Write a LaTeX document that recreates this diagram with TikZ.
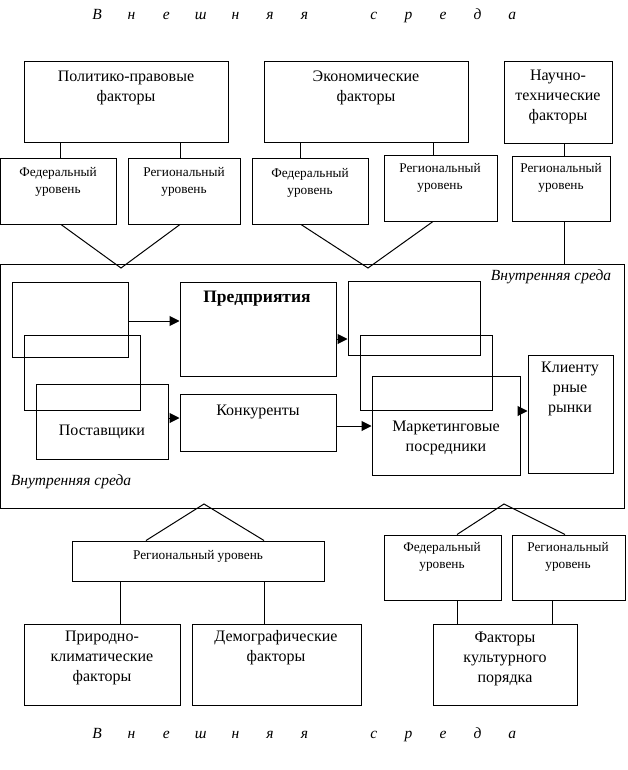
\documentclass[tikz,border=0pt]{standalone}
\usepackage{fontspec}
\setmainfont{Liberation Serif}
\usetikzlibrary{arrows.meta}
\tikzset{
  box/.style={draw, line width=1pt, rectangle, inner sep=0pt},
  big/.style={align=center, inner sep=0pt, font=\fontsize{16}{20}\selectfont},
  small/.style={align=center, inner sep=0pt, font=\fontsize{13.3}{17}\selectfont},
  itl/.style={inner sep=0pt, font=\fontsize{15.5}{17}\selectfont\itshape},
  ln/.style={line width=1pt},
  arr/.style={line width=1pt, -{Triangle[length=10pt,width=10pt]}}
}
\newcommand{\slot}[1]{\makebox[34.6pt]{#1}}
\begin{document}
\begin{tikzpicture}[x=1pt,y=-1pt]
\useasboundingbox (0,0) rectangle (627,770);
% top boxes
\node[box, minimum width=204, minimum height=81] (pol) at (126,102.5) {};
\node[box, minimum width=204, minimum height=81] (eco) at (366,102.5) {};
\node[box, minimum width=108, minimum height=82] (sci) at (558,103) {};
\node[box, minimum width=116, minimum height=65] (fed1) at (58.5,191.5) {};
\node[box, minimum width=112, minimum height=65] (reg1) at (184,191.5) {};
\node[box, minimum width=116, minimum height=65] (fed2) at (310,191.5) {};
\node[box, minimum width=113, minimum height=65] (reg2) at (440.5,188.5) {};
\node[box, minimum width=98, minimum height=64] (reg3) at (561,189) {};
% inner environment
\node[box, minimum width=624, minimum height=244] (inner) at (312.5,386) {};
\node[box, minimum width=116, minimum height=75] (a1) at (70,319.5) {};
\node[box, minimum width=116, minimum height=75] (a2) at (82,372.5) {};
\node[box, minimum width=132, minimum height=75] (post) at (102,421.5) {};
\node[box, minimum width=156, minimum height=94] (pred) at (258,329) {};
\node[box, minimum width=156, minimum height=57] (konk) at (258,422.5) {};
\node[box, minimum width=132, minimum height=74] (b1) at (414,318) {};
\node[box, minimum width=132, minimum height=75] (b2) at (426,372.5) {};
\node[box, minimum width=148, minimum height=99] (mark) at (446,425.5) {};
\node[box, minimum width=85, minimum height=118] (kli) at (570.5,414) {};
% bottom boxes
\node[box, minimum width=252, minimum height=40] (regb) at (198,561) {};
\node[box, minimum width=117, minimum height=65] (fedb) at (442.5,567.5) {};
\node[box, minimum width=113, minimum height=65] (regb2) at (568.5,567.5) {};
\node[box, minimum width=156, minimum height=81] (prir) at (102,664.5) {};
\node[box, minimum width=169, minimum height=81] (dem) at (276.5,664.5) {};
\node[box, minimum width=144, minimum height=81] (kult) at (505,664.5) {};
% texts
\node[itl] (t0) at (304.6,16) {\slot{В}\slot{н}\slot{е}\slot{ш}\slot{н}\slot{я}\slot{я}\slot{}\slot{с}\slot{р}\slot{е}\slot{д}\slot{а}};
\node[itl] (t00) at (304.6,735) {\slot{В}\slot{н}\slot{е}\slot{ш}\slot{н}\slot{я}\slot{я}\slot{}\slot{с}\slot{р}\slot{е}\slot{д}\slot{а}};
\node[big] (tpol) at (126,87.5) {Политико-правовые\\факторы};
\node[big] (teco) at (366,87.5) {Экономические\\факторы};
\node[big] (tsci) at (558,97) {Научно-\\технические\\факторы};
\node[small] (tfed1) at (58,182) {Федеральный\\уровень};
\node[small] (treg1) at (184,182) {Региональный\\уровень};
\node[small] (tfed2) at (310,182.5) {Федеральный\\уровень};
\node[small] (treg2) at (440,178) {Региональный\\уровень};
\node[small] (treg3) at (561,178) {Региональный\\уровень};
\node[itl] (tin1) at (551,277) {Внутренняя среда};
\node[itl] (tin2) at (71,482) {Внутренняя среда};
\node[big, font=\fontsize{17.5}{20}\selectfont\bfseries] (tpred) at (257,299) {Предприятия};
\node[big] (tkonk) at (258,412) {Конкуренты};
\node[big] (tpost) at (102,432) {Поставщики};
\node[big] (tmark) at (446,437.5) {Маркетинговые\\посредники};
\node[big] (tkli) at (570,389) {Клиенту\\рные\\рынки};
\node[small] (tregb) at (198,556) {Региональный уровень};
\node[small] (tfedb) at (442,557) {Федеральный\\уровень};
\node[small] (tregb2) at (568,557) {Региональный\\уровень};
\node[big] (tprir) at (102,657.5) {Природно-\\климатические\\факторы};
\node[big] (tdem) at (276,647.5) {Демографические\\факторы};
\node[big] (tkult) at (505,659) {Факторы\\культурного\\порядка};
% top connectors
\draw[ln] (pol.south -| 60,0) -- (fed1.north -| 60,0);
\draw[ln] (pol.south -| 180,0) -- (reg1.north -| 180,0);
\draw[ln] (eco.south -| 300,0) -- (fed2.north -| 300,0);
\draw[ln] (eco.south -| 433,0) -- (reg2.north -| 433,0);
\draw[ln] (sci.south -| 564,0) -- (reg3.north -| 564,0);
\coordinate (v1) at (121,268);
\coordinate (v2) at (368,268);
\draw[ln] (fed1.south -| 61,0) -- (v1) -- (reg1.south -| 180,0);
\draw[ln] (fed2.south -| 301,0) -- (v2) -- (reg2.south -| 433,0);
\draw[ln] (reg3.south -| 564,0) -- (inner.north -| 564,0);
% arrows
\draw[arr] (a1.east |- 0,321) -- (pred.west |- 0,321);
\draw[arr] (post.east |- 0,418) -- (konk.west |- 0,418);
\draw[arr] (pred.east |- 0,339) -- (b1.west |- 0,339);
\draw[arr] (konk.east |- 0,426) -- (mark.west |- 0,426);
\draw[arr] (mark.east |- 0,411) -- (kli.west |- 0,411);
% bottom connectors
\coordinate (v3) at (204,504);
\coordinate (v4) at (504,504);
\draw[ln] (regb.north -| 146,0) -- (v3) -- (regb.north -| 264,0);
\draw[ln] (fedb.north -| 457,0) -- (v4) -- (regb2.north -| 565,0);
\draw[ln] (regb.south -| 120,0) -- (prir.north -| 120,0);
\draw[ln] (regb.south -| 264,0) -- (dem.north -| 264,0);
\draw[ln] (fedb.south -| 457,0) -- (kult.north -| 457,0);
\draw[ln] (regb2.south -| 552,0) -- (kult.north -| 552,0);
\end{tikzpicture}
\end{document}
